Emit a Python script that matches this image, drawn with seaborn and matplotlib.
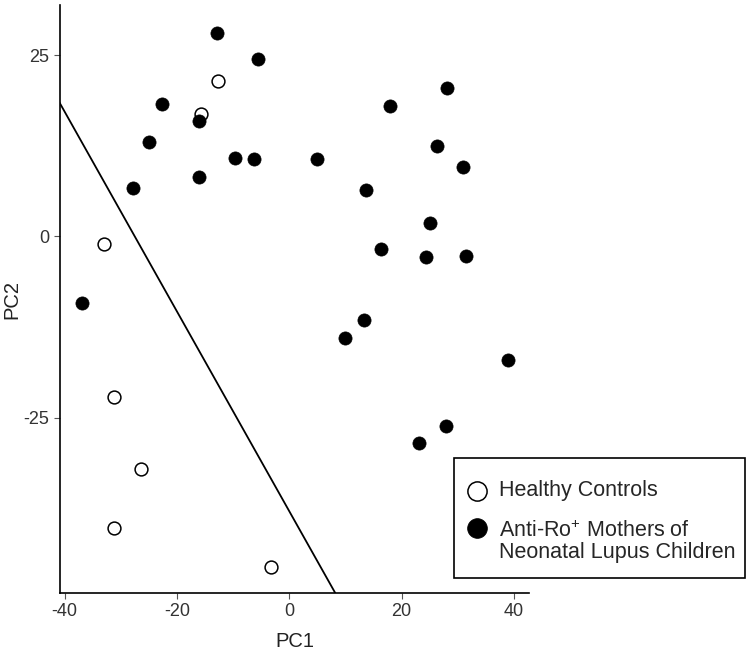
import matplotlib
matplotlib.use("Agg")
import matplotlib.pyplot as plt
from matplotlib.patches import Rectangle
import seaborn as sns
import pandas as pd

# PCA scores
healthy_pc1 = [-12.6, -15.7, -32.9, -31.1, -26.3, -31.2, -3.3]
healthy_pc2 = [21.4, 16.8, -1.1, -22.2, -32.1, -40.2, -45.6]

antiro_pc1 = [-12.8, -5.6, -22.6, -16.1, -24.9, -9.6, -6.2, 5.0, -16.0, -27.8,
              13.7, -36.9, 13.4, 28.1, 17.9, 26.3, 31.0, 25.1, 16.3, 24.3,
              31.5, 10.0, 39.0, 23.2, 27.9]
antiro_pc2 = [28.0, 24.5, 18.3, 15.9, 13.0, 10.8, 10.6, 10.7, 8.2, 6.7,
              6.4, -9.2, -11.6, 20.5, 18.0, 12.4, 9.5, 1.9, -1.8, -2.9,
              -2.7, -14.0, -17.1, -28.5, -26.1]

# separating line
boundary_pc1 = [-41.0, 8.2]
boundary_pc2 = [18.6, -49.2]

healthy = pd.DataFrame({"PC1": healthy_pc1, "PC2": healthy_pc2})
antiro = pd.DataFrame({"PC1": antiro_pc1, "PC2": antiro_pc2})
boundary = pd.DataFrame({"PC1": boundary_pc1, "PC2": boundary_pc2})

sns.set_style("ticks")
plt.rcParams["font.family"] = ["Liberation Sans", "DejaVu Sans"]
plt.rcParams["mathtext.default"] = "regular"
plt.rcParams["axes.unicode_minus"] = False

fig = plt.figure(figsize=(7.52, 6.51), dpi=100)
ax = fig.add_axes([0.0798, 0.0891, 0.6237, 0.9032])

sns.lineplot(data=boundary, x="PC1", y="PC2", color="black", linewidth=1.3,
             ax=ax, sort=False)
sns.scatterplot(data=healthy, x="PC1", y="PC2", color="white", edgecolor="black",
                linewidth=1.1, s=85, ax=ax, label="Healthy Controls", zorder=3)
sns.scatterplot(data=antiro, x="PC1", y="PC2", color="black", edgecolor="black",
                linewidth=0.5, s=90, ax=ax,
                label="Anti-Ro$^{+}$ Mothers of\nNeonatal Lupus Children", zorder=4)

ax.set_xlim(-40.8, 42.7)
ax.set_ylim(-49.2, 31.9)
ax.set_xticks([-40, -20, 0, 20, 40])
ax.set_yticks([-25, 0, 25])
ax.set_xlabel("PC1", fontsize=14.5, color="#222222", labelpad=8)
ax.set_ylabel("PC2", fontsize=14.5, color="#222222")
ax.yaxis.set_label_coords(-0.083, 0.5)
ax.tick_params(axis="both", labelsize=13, colors="#333333", length=4, width=0.8)
ax.tick_params(axis="both", color="#555555")
for side in ["left", "bottom"]:
    ax.spines[side].set_linewidth(1.2)
    ax.spines[side].set_color("black")
sns.despine(ax=ax)

handles, labels = ax.get_legend_handles_labels()
ax.get_legend().remove()
leg = fig.legend(handles, labels, loc="upper left",
                 bbox_to_anchor=(451 / 752, 1 - 463 / 651),
                 frameon=False, fontsize=15.5, markerscale=1.5,
                 handletextpad=0.64, borderpad=0.8, labelspacing=0.9,
                 handlelength=0.8, borderaxespad=0)
for t in leg.get_texts():
    t.set_linespacing(1.0)

# second key sits on the first line of its two-line label
key = leg.legend_handles[1]
offs = key.get_offsets().copy()
offs[:, 1] += 11.5
key.set_offsets(offs)

# legend box (sits partly outside the axes)
fig.patches.append(Rectangle((454 / 752, 1 - 578 / 651), 291 / 752, 120 / 651,
                             transform=fig.transFigure, fill=False,
                             edgecolor="black", linewidth=1.2))

fig.savefig("out.png", dpi=100)
